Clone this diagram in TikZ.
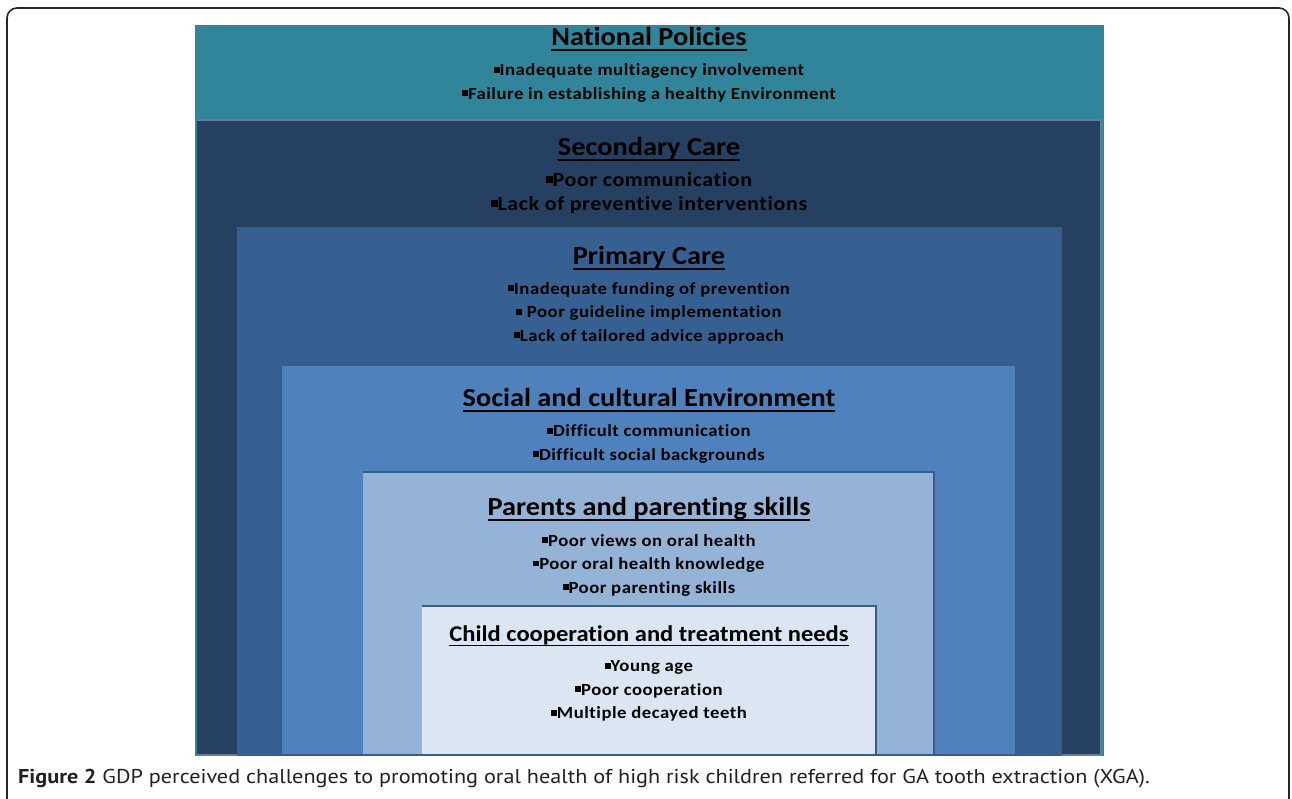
\documentclass[tikz,border=0pt]{standalone}
\usepackage{fontspec}
\setmainfont{Carlito}[FakeStretch=1.09, Ligatures=NoCommon]
\newfontfamily\listfont{Carlito}[FakeStretch=1.1, LetterSpace=3, Ligatures=NoCommon]
\newfontfamily\capfont{PT Sans}[FakeStretch=1.11]
\definecolor{natteal}{RGB}{49,133,155}
\definecolor{secblue}{RGB}{37,64,97}
\definecolor{primblue}{RGB}{54,96,146}
\definecolor{socblue}{RGB}{79,129,189}
\definecolor{parblue}{RGB}{149,179,215}
\definecolor{chlblue}{RGB}{220,230,242}
\definecolor{edgeblue}{RGB}{56,93,138}
\definecolor{captext}{RGB}{35,31,32}
\newcommand{\undl}[1]{\setbox0=\hbox{#1}\rlap{\rule[-0.2em]{\wd0}{0.07em}}\box0}
\newcommand{\sqb}{\rule[0.18em]{0.34em}{0.34em}}
\tikzset{
  titletext/.style={font=\fontsize{26}{30}\selectfont\bfseries, inner sep=0pt},
  listtext/.style={align=center, inner sep=0pt, font=\listfont\fontsize{17}{23.5}\selectfont\bfseries},
  layer/.style={draw=edgeblue, line width=1.5pt}
}
\begin{document}
\begin{tikzpicture}[x=1pt,y=-1pt]
\useasboundingbox (0,0) rectangle (1292,798);
\fill[white] (0,0) rectangle (1292,798);
% frame
\draw[line width=1.6pt, color=black!85, rounded corners=10pt] (7,800)--(7,8)--(1289,8)--(1289,800);
% layers
\filldraw[color=natteal] (195,25)--(1103,25)--(1103,755)--(195,755)--cycle;
\filldraw[fill=secblue, draw=edgeblue!80, line width=1.5pt] (197,120)--(1101,120)--(1101,755)--(197,755);
\filldraw[fill=primblue, layer] (237,228)--(1061,228)--(1061,755)--(237,755);
\filldraw[fill=socblue, layer] (282,365)--(1016,365)--(1016,755)--(282,755);
\filldraw[fill=parblue, layer] (363,472)--(934,472)--(934,755)--(363,755);
\filldraw[fill=chlblue, layer] (422,606)--(876,606)--(876,755)--(422,755);
\fill[white] (190,756) rectangle (1110,770);
% texts
\node[titletext] (natl) at (649,39) {\undl{National Policies}};
\node[listtext] (natlist) at (649,83) {\sqb Inadequate multiagency involvement\\ \sqb Failure in establishing a healthy Environment};
\node[titletext] (sec) at (649,149) {\undl{Secondary Care}};
\node[listtext, font=\listfont\fontsize{20}{24}\selectfont\bfseries] (seclist) at (649,193) {\sqb Poor communication\\ \sqb Lack of preventive interventions};
\node[titletext] (prim) at (649,258) {\undl{Primary Care}};
\node[listtext] (primlist) at (649,313) {\sqb Inadequate funding of prevention\\ \sqb\ Poor guideline implementation\\ \sqb Lack of tailored advice approach};
\node[titletext] (soc) at (649,400) {\undl{Social and cultural Environment}};
\node[listtext] (soclist) at (649,444) {\sqb Difficult communication\\ \sqb Difficult social backgrounds};
\node[titletext] (par) at (649,509) {\undl{Parents and parenting skills}};
\node[listtext] (parlist) at (649,565) {\sqb Poor views on oral health\\ \sqb Poor oral health knowledge\\ \sqb Poor parenting skills};
\node[titletext, font=\fontsize{22.5}{26}\selectfont\bfseries] (chl) at (649,636) {\undl{Child cooperation and treatment needs}};
\node[listtext] (chllist) at (649,691) {\sqb Young age\\ \sqb Poor cooperation\\ \sqb Multiple decayed teeth};
% caption
\node[anchor=west, inner sep=0pt, text=captext, font=\capfont\fontsize{20}{24}\selectfont] (cap) at (18,779) {\textbf{Figure 2} GDP perceived challenges to promoting oral health of high risk children referred for GA tooth extraction (XGA).};
\end{tikzpicture}
\end{document}
